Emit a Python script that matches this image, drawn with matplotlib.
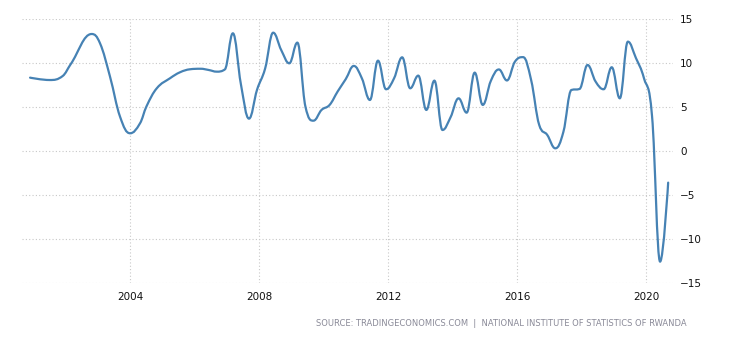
# Rwanda - crecimiento anual del PIB (trimestral), estilo Trading Economics
import matplotlib
matplotlib.use("Agg")
import matplotlib.pyplot as plt
from matplotlib.path import Path
from matplotlib.patches import PathPatch

# ── Datos (año decimal, % interanual) ───────────────────────────────────
fechas = [
    2000.89, 2001.50, 2001.90, 2002.15, 2002.80, 2003.06, 2003.37, 2003.68,
    2003.99, 2004.30, 2004.50, 2004.82, 2005.23, 2005.54, 2005.85,
    2006.18, 2006.43, 2006.68, 2006.93, 2007.18, 2007.43, 2007.68, 2007.93,
    2008.18, 2008.43, 2008.68, 2008.93, 2009.18, 2009.43, 2009.68, 2009.93,
    2010.18, 2010.43, 2010.68, 2010.93, 2011.18, 2011.43, 2011.68, 2011.93,
    2012.18, 2012.43, 2012.68, 2012.93, 2013.18, 2013.43, 2013.68, 2013.93,
    2014.18, 2014.43, 2014.68, 2014.93, 2015.18, 2015.43, 2015.68, 2015.93,
    2016.18, 2016.43, 2016.68, 2016.93, 2017.18, 2017.43, 2017.68, 2017.93,
    2018.18, 2018.43, 2018.68, 2018.93, 2019.18, 2019.43, 2019.68, 2019.93,
    2020.18, 2020.43, 2020.68,
]
valores = [
    8.37, 8.10, 8.55, 9.90, 13.33, 12.27, 8.48, 3.94,
    2.05, 3.18, 5.10, 7.16, 8.30, 8.98, 9.32,
    9.38, 9.24, 9.05, 9.30, 13.41, 7.60, 3.71, 7.00,
    9.40, 13.48, 11.50, 10.00, 12.35, 5.08, 3.48, 4.70,
    5.27, 6.80, 8.20, 9.70, 8.30, 5.83, 10.30, 7.05,
    8.30, 10.68, 7.16, 8.60, 4.70, 8.03, 2.42, 3.86,
    6.02, 4.39, 8.94, 5.27, 8.00, 9.30, 8.05, 10.20,
    10.70, 8.10, 3.00, 1.86, 0.34, 2.20, 6.97, 7.08,
    9.81, 7.92, 7.05, 9.55, 6.02, 12.46, 10.60, 8.30,
    4.00, -12.54, -3.56,
]

anios_ticks = [2004, 2008, 2012, 2016, 2020]
niveles_y = [-15, -10, -5, 0, 5, 10, 15]
fuente = "SOURCE: TRADINGECONOMICS.COM  |  NATIONAL INSTITUTE OF STATISTICS OF RWANDA"

COLOR_LINEA = "#4682b4"
COLOR_REJILLA = "#c8c8c8"


def trazo_spline(x, y, suavizado=1.5):
    """Curva bezier tipo 'spline' (puntos de control como Highcharts)."""
    n = len(x)
    izq = [None] * n
    der = [None] * n
    den = suavizado + 1
    for i in range(1, n - 1):
        px, py = x[i], y[i]
        lx, ly = x[i - 1], y[i - 1]
        nx, ny = x[i + 1], y[i + 1]
        lcx = (suavizado * px + lx) / den
        lcy = (suavizado * py + ly) / den
        rcx = (suavizado * px + nx) / den
        rcy = (suavizado * py + ny) / den
        if rcx != lcx:
            corr = (rcy - lcy) * (rcx - px) / (rcx - lcx) + py - rcy
            lcy += corr
            rcy += corr
            # evitar falsos extremos
            if lcy > ly and lcy > py:
                lcy = max(ly, py)
                rcy = 2 * py - lcy
            elif lcy < ly and lcy < py:
                lcy = min(ly, py)
                rcy = 2 * py - lcy
            if rcy > ny and rcy > py:
                rcy = max(ny, py)
                lcy = 2 * py - rcy
            elif rcy < ny and rcy < py:
                rcy = min(ny, py)
                lcy = 2 * py - rcy
        izq[i] = (lcx, lcy)
        der[i] = (rcx, rcy)

    verts = [(x[0], y[0])]
    codes = [Path.MOVETO]
    for i in range(1, n):
        c1 = der[i - 1] if der[i - 1] is not None else (x[i - 1], y[i - 1])
        c2 = izq[i] if izq[i] is not None else (x[i], y[i])
        verts += [c1, c2, (x[i], y[i])]
        codes += [Path.CURVE4] * 3
    return Path(verts, codes)


fig = plt.figure(figsize=(7.3, 3.4), dpi=100)
ax = fig.add_axes([22 / 730, 1 - 283.3 / 340, (673 - 22) / 730, (283.3 - 19.3) / 340])

ax.set_xlim(2000.64, 2020.83)
ax.set_ylim(-15, 15)

# rejilla punteada
for nivel in niveles_y:
    ax.axhline(nivel, color=COLOR_REJILLA, lw=0.8, ls=(0, (1, 2)), zorder=1)
for anio in anios_ticks:
    ax.axvline(anio, color=COLOR_REJILLA, lw=0.8, ls=(0, (1, 2)), zorder=1)

ax.add_patch(PathPatch(trazo_spline(fechas, valores), fill=False,
                       edgecolor=COLOR_LINEA, lw=1.6, capstyle="round",
                       joinstyle="round", zorder=3))

for s in ax.spines.values():
    s.set_visible(False)

ax.set_xticks(anios_ticks)
ax.set_xticklabels([str(a) for a in anios_ticks])
ax.set_yticks(niveles_y)
ax.yaxis.tick_right()
ax.tick_params(axis="both", length=0, labelsize=7.5, colors="#111111")
ax.tick_params(axis="x", pad=6)
ax.tick_params(axis="y", pad=5)

fig.text(687 / 730, 1 - 324 / 340, fuente, ha="right", va="center",
         fontsize=6.0, color="#8a8a98")

fig.savefig("out.png", dpi=100)
plt.close(fig)
